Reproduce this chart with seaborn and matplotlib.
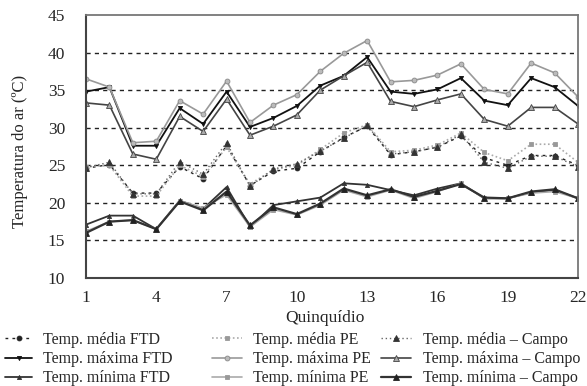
import matplotlib
matplotlib.use("Agg")
import matplotlib.pyplot as plt
import seaborn as sns
import numpy as np
import pandas as pd

quinq = list(range(1, 23))

media_ftd = [24.6, 25.1, 21.3, 21.3, 24.8, 23.2, 27.6, 22.3, 24.2, 24.6, 26.8, 28.7, 30.2, 26.4, 26.8, 27.4, 28.9, 26.0, 25.0, 26.3, 26.3, 25.0]
maxima_ftd = [34.8, 35.4, 27.6, 27.6, 32.6, 30.5, 34.8, 30.1, 31.3, 32.9, 35.6, 36.9, 39.4, 34.8, 34.5, 35.1, 36.6, 33.6, 33.0, 36.6, 35.4, 32.9]
minima_ftd = [17.1, 18.3, 18.3, 16.5, 20.3, 19.2, 22.1, 16.8, 19.7, 20.2, 20.7, 22.6, 22.4, 21.7, 21.0, 21.9, 22.6, 20.6, 20.6, 21.4, 21.7, 20.6]

media_pe = [24.8, 25.0, 20.9, 20.9, 25.0, 23.5, 27.4, 22.5, 24.4, 25.0, 27.1, 29.3, 30.4, 26.8, 27.0, 27.7, 29.3, 26.7, 25.6, 27.8, 27.8, 25.4]
maxima_pe = [36.5, 35.4, 28.0, 28.2, 33.6, 31.8, 36.2, 30.7, 33.0, 34.4, 37.5, 39.9, 41.6, 36.1, 36.3, 37.0, 38.5, 35.1, 34.5, 38.6, 37.3, 34.1]
minima_pe = [16.2, 17.5, 17.7, 16.5, 20.3, 19.3, 21.1, 16.8, 19.1, 18.4, 19.7, 21.7, 20.8, 21.7, 20.6, 21.5, 22.6, 20.6, 20.6, 21.3, 21.5, 20.6]

media_campo = [24.7, 25.4, 21.2, 21.2, 25.5, 23.8, 28.0, 22.2, 24.5, 25.2, 26.9, 28.6, 30.3, 26.5, 26.8, 27.4, 29.1, 25.4, 24.6, 26.2, 26.2, 24.8]
maxima_campo = [33.3, 33.0, 26.5, 25.8, 31.5, 29.5, 33.8, 29.0, 30.2, 31.7, 35.0, 36.9, 38.7, 33.5, 32.8, 33.7, 34.5, 31.1, 30.2, 32.7, 32.7, 30.5]
minima_campo = [16.0, 17.5, 17.7, 16.5, 20.2, 19.0, 21.5, 17.0, 19.4, 18.5, 19.9, 21.9, 21.0, 21.8, 20.8, 21.6, 22.5, 20.7, 20.6, 21.5, 21.8, 20.6]

labels = ["Temp. média FTD", "Temp. máxima FTD", "Temp. mínima FTD",
          "Temp. média PE", "Temp. máxima PE", "Temp. mínima PE",
          "Temp. média – Campo", "Temp. máxima – Campo", "Temp. mínima – Campo"]
series = [media_ftd, maxima_ftd, minima_ftd,
          media_pe, maxima_pe, minima_pe,
          media_campo, maxima_campo, minima_campo]

styles = [
    dict(color="#222222", linestyle=(0, (2, 3)), lw=1.0, marker="o", ms=3.5, mfc="#222222", mec="#222222"),
    dict(color="#111111", linestyle="-", lw=1.3, marker="v", ms=3, mfc="#111111", mec="#111111"),
    dict(color="#333333", linestyle="-", lw=1.3, marker="^", ms=3, mfc="#333333", mec="#333333"),
    dict(color="#aaaaaa", linestyle=(0, (1, 1.5)), lw=1.2, marker="s", ms=3.5, mfc="#999999", mec="#999999"),
    dict(color="#999999", linestyle="-", lw=1.2, marker="o", ms=3.5, mfc="#bbbbbb", mec="#888888"),
    dict(color="#aaaaaa", linestyle="-", lw=1.2, marker="s", ms=3, mfc="#999999", mec="#999999"),
    dict(color="#666666", linestyle=(0, (1, 2)), lw=1.0, marker="^", ms=4, mfc="#333333", mec="#333333"),
    dict(color="#444444", linestyle="-", lw=1.2, marker="^", ms=4, mfc="#aaaaaa", mec="#444444"),
    dict(color="#333333", linestyle="-", lw=1.6, marker="^", ms=4, mfc="#222222", mec="#222222"),
]

sns.set_style("white")
plt.rcParams["font.family"] = ["Liberation Serif", "DejaVu Serif"]

fig = plt.figure(figsize=(5.87, 3.86), dpi=100)
ax = fig.add_axes([0.1465, 0.2798, 0.8382, 0.6814])

for y in [15, 20, 25, 30, 35, 40]:
    ax.axhline(y, color="#222222", lw=1.0, linestyle=(0, (3, 3)), zorder=0)

for lab, vals, st in zip(labels, series, styles):
    df = pd.DataFrame({"q": quinq, "t": vals})
    st = dict(st)
    sns.lineplot(data=df, x="q", y="t", ax=ax, label=lab,
                 color=st.pop("color"), linestyle=st.pop("linestyle"),
                 linewidth=st.pop("lw"), marker=st.pop("marker"),
                 markersize=st.pop("ms"), markerfacecolor=st.pop("mfc"),
                 markeredgecolor=st.pop("mec"), markeredgewidth=0.6)

ax.set_xlim(1, 22)
ax.set_ylim(10, 45)
ax.set_yticks([10, 15, 20, 25, 30, 35, 40, 45])
ax.set_xticks(list(range(1, 23, 3)))
ax.set_xticks(quinq, minor=True)
ax.tick_params(axis="both", which="both", direction="out", length=4, width=1.2,
               labelsize=12.5, color="#333333")
ax.tick_params(axis="y", which="major", pad=11)
ax.tick_params(axis="x", which="major", pad=5)

for side in ["left", "bottom"]:
    ax.spines[side].set_color("#444444")
    ax.spines[side].set_linewidth(1.5)
for side in ["top", "right"]:
    ax.spines[side].set_color("#777777")
    ax.spines[side].set_linewidth(1.3)

ax.set_xlabel("Quinquídio", fontsize=12.5)
ax.xaxis.set_label_coords(0.486, -0.122)
ax.set_ylabel("Temperatura do ar (ºC)", fontsize=12)
ax.yaxis.set_label_coords(-0.117, 0.48)

ax.get_legend().remove()
handles, labs = ax.get_legend_handles_labels()

col_x = [5 / 587, 212 / 587, 381 / 587]
col_hl = [1.7, 1.9, 1.85]
col_pad = [0.65, 0.65, 0.75]
for c in range(3):
    fig.legend(handles[3 * c:3 * c + 3], labs[3 * c:3 * c + 3], loc="upper left",
               bbox_to_anchor=(col_x[c], 0.140), ncol=1, frameon=False, fontsize=11.5,
               handlelength=col_hl[c], handletextpad=col_pad[c],
               labelspacing=0.2, borderaxespad=0, borderpad=0)

fig.savefig("out.png", dpi=100)
